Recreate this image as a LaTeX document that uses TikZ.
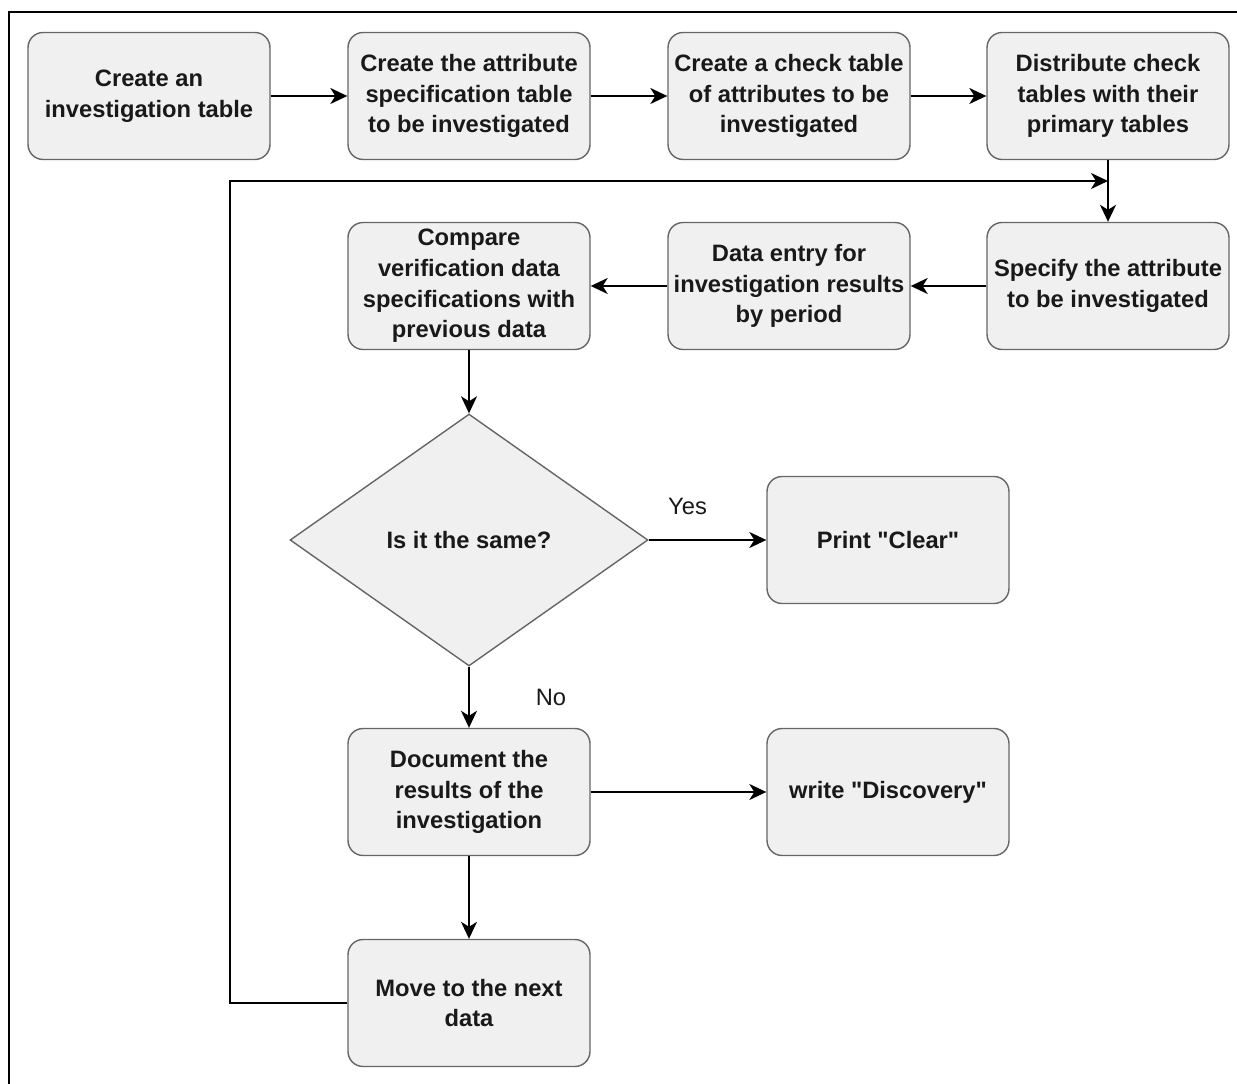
\documentclass[tikz,border=0pt]{standalone}
\usepackage{fontspec}
\setmainfont{Liberation Sans}
\usetikzlibrary{shapes.geometric,arrows.meta}
\begin{document}
\begin{tikzpicture}[
    x=0.02cm, y=-0.02cm,
    every node/.style={font=\fontsize{13.5}{17.4}\selectfont\bfseries, text=black!90},
    stepbox/.style={draw=black!60, fill=black!6, rounded corners=0.3cm, minimum width=4.84cm, minimum height=2.54cm, align=center, inner sep=1pt, line width=0.8pt},
    decision/.style={diamond, draw=black!60, fill=black!6, minimum width=7.16cm, minimum height=5.04cm, inner sep=0pt, line width=0.8pt},
    flow/.style={-{Stealth[length=0.34cm,width=0.32cm,inset=0.1cm]}, line width=1.1pt},
    answer/.style={font=\fontsize{13.5}{17}\selectfont},
]
    \useasboundingbox (0,0) rectangle (1237,1084);

    % frame round the whole chart
    \draw[line width=0.8pt] (9,1084) -- (9,12) -- (1237,12);

    \node[stepbox] (table) at (149, 96) {Create an\\investigation table};
    \node[stepbox] (spec) at (469, 96) {Create the attribute\\specification table\\to be investigated};
    \node[stepbox] (check) at (789, 96) {Create a check table\\of attributes to be\\investigated};
    \node[stepbox] (distribute) at (1108, 96) {Distribute check\\tables with their\\primary tables};

    \node[stepbox] (specify) at (1108, 286) {Specify the attribute\\to be investigated};
    \node[stepbox] (entry) at (789, 286) {Data entry for\\investigation results\\by period};
    \node[stepbox] (compare) at (469, 286) {Compare\\verification data\\specifications with\\previous data};

    \node[decision] (same) at (469, 540) {Is it the same?};
    \node[stepbox] (clear) at (888, 540) {Print \textquotedbl Clear\textquotedbl};

    \node[stepbox] (document) at (469, 792) {Document the\\results of the\\investigation};
    \node[stepbox] (discovery) at (888, 792) {write \textquotedbl Discovery\textquotedbl};
    \node[stepbox] (next) at (469, 1003) {Move to the next\\data};

    \coordinate (loop) at (230, 181);
    \coordinate (join) at (1108, 181);

    \draw[flow] (table) -- (spec);
    \draw[flow] (spec) -- (check);
    \draw[flow] (check) -- (distribute);
    \draw[flow] (distribute) -- (specify);
    \draw[flow] (specify) -- (entry);
    \draw[flow] (entry) -- (compare);
    \draw[flow] (compare) -- (same);
    \draw[flow] (same) -- node[answer, above=0.36cm, pos=0.33] {Yes} (clear);
    \draw[flow] (same) -- node[answer, right=1.2cm, pos=0.5] {No} (document);
    \draw[flow] (document) -- (discovery);
    \draw[flow] (document) -- (next);

    % back to the top for the next data
    \draw[flow] (next.west) -| (loop) -- (join);

\end{tikzpicture}
\end{document}
